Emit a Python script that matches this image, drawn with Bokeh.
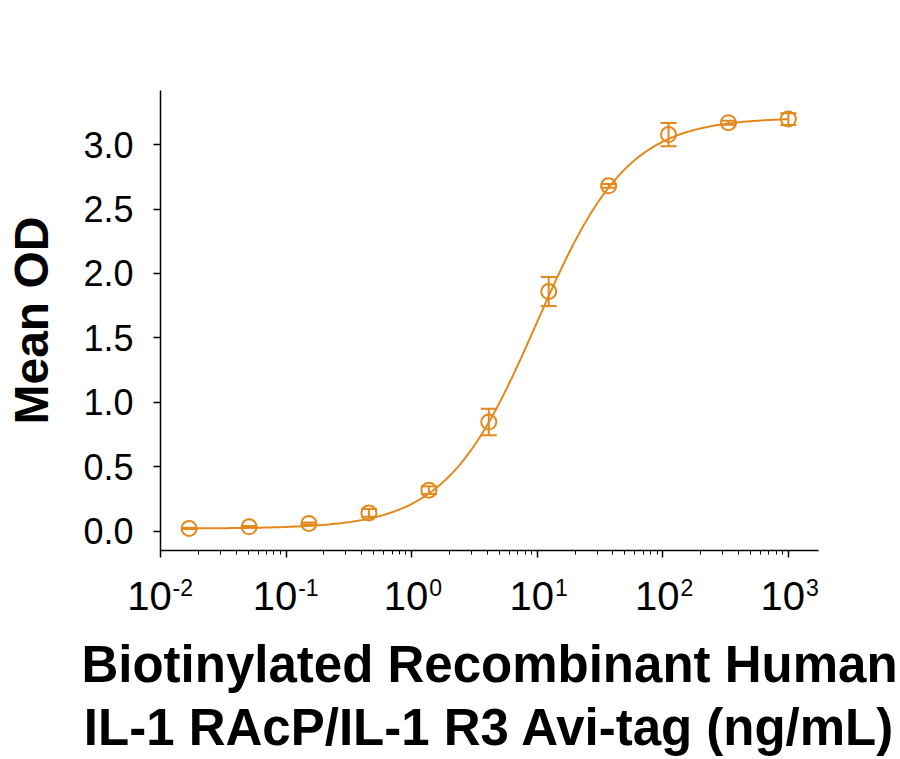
from bokeh.plotting import figure
from bokeh.models import (Range1d, FixedTicker, Whisker, TeeHead, ColumnDataSource,
                          NumeralTickFormatter, LogAxis, CustomJSTickFormatter)
from bokeh.embed import file_html
from bokeh.resources import INLINE
import numpy as np

# 3-fold dilution series (ng/mL) and mean OD readings
conc = [0.0169, 0.0508, 0.152, 0.457, 1.372, 4.115, 12.35, 37.04, 111.1, 333.3, 1000.0]
mean_od = [0.021, 0.034, 0.060, 0.142, 0.318, 0.847, 1.860, 2.680, 3.078, 3.170, 3.198]
sd_od = [0.005, 0.006, 0.008, 0.030, 0.030, 0.103, 0.113, 0.015, 0.090, 0.015, 0.045]

# four-parameter logistic fit
fit_bottom = 0.02
fit_top = 3.21
fit_ec50 = 9.9
fit_hill = 1.2

x_decades = [-2, -1, 0, 1, 2, 3]
x_exponents = ["-2", "-1", "0", "1", "2", "3"]
y_major = [0.0, 0.5, 1.0, 1.5, 2.0, 2.5, 3.0]
x_title = "Biotinylated Recombinant Human\nIL-1 RAcP/IL-1 R3 Avi-tag (ng/mL)"

ORANGE = "#E3891C"
FONT = "Liberation Sans"

W, H = 900, 759
LEFT, RIGHT, TOP, BOTTOM = 160, 82, 90, 209
LOG_LO, LOG_HI = -2.0, 3.24
px_per_decade = (W - LEFT - RIGHT) / (LOG_HI - LOG_LO)

p = figure(width=W, height=H, x_axis_type="log",
           x_range=Range1d(10 ** LOG_LO, 10 ** LOG_HI), y_range=Range1d(-0.15, 3.42),
           output_backend="svg", toolbar_location=None,
           min_border_left=LEFT, min_border_right=RIGHT, min_border_top=TOP,
           min_border_bottom=BOTTOM)
p.outline_line_color = None
p.grid.visible = False
p.background_fill_color = "white"
p.border_fill_color = "white"

# fitted curve
xs = np.logspace(np.log10(conc[0]), np.log10(conc[-1]), 400)
ys = fit_bottom + (fit_top - fit_bottom) / (1 + (fit_ec50 / xs) ** fit_hill)
p.line(xs, ys, line_color=ORANGE, line_width=2)

src = ColumnDataSource(dict(
    x=conc, y=mean_od,
    lo=[m - s for m, s in zip(mean_od, sd_od)],
    hi=[m + s for m, s in zip(mean_od, sd_od)],
))
w = Whisker(source=src, base="x", upper="hi", lower="lo", line_color=ORANGE, line_width=2,
            upper_head=TeeHead(size=16, line_color=ORANGE, line_width=2),
            lower_head=TeeHead(size=16, line_color=ORANGE, line_width=2))
p.add_layout(w)
p.scatter("x", "y", source=src, marker="circle", size=15, fill_color=None,
          line_color=ORANGE, line_width=2)

# main x axis: decade ticks with log minor ticks, no labels of its own
x_major = [10.0 ** d for d in x_decades]
minor = [m * 10.0 ** d for d in x_decades for m in range(2, 10)]
xa = p.xaxis[0]
xa.ticker = FixedTicker(ticks=x_major, minor_ticks=minor)
xa.formatter = CustomJSTickFormatter(code="return ''")
xa.major_label_standoff = 0
xa.major_label_text_font_size = "1px"

# decade labels: "10" (padded on the right to leave room for the exponent)
# and a raised exponent placed just after it
BASE_SIZE, SUP_SIZE = 40, 23
NBSP_W = 0.278 * BASE_SIZE
w_base = 1.112 * BASE_SIZE
base_text, sup_pos = [], []
for d, e in zip(x_decades, x_exponents):
    w_sup = sum(0.333 if ch == "-" else 0.556 for ch in e) * SUP_SIZE
    n_pad = max(1, round((w_sup + 1) / NBSP_W))
    base_text.append("10" + "\u00a0" * n_pad)
    pad_w = n_pad * NBSP_W
    right_of_ten = -(w_base + pad_w) / 2 + w_base
    sup_pos.append(10.0 ** (d + (right_of_ten + 1 + w_sup / 2) / px_per_decade))

base_axis = LogAxis(ticker=FixedTicker(ticks=x_major, minor_ticks=[]),
                    formatter=CustomJSTickFormatter(args=dict(labels=base_text),
                                                    code="return labels[index]"))
sup_axis = LogAxis(ticker=FixedTicker(ticks=sup_pos, minor_ticks=[]),
                   formatter=CustomJSTickFormatter(args=dict(labels=x_exponents),
                                                   code="return labels[index]"))
for ax in (base_axis, sup_axis):
    ax.axis_line_color = None
    ax.major_tick_line_color = None
    ax.minor_tick_line_color = None
    ax.major_tick_out = 0
    ax.minor_tick_out = 0
    ax.major_label_text_font = FONT
    ax.major_label_text_color = "black"
base_axis.major_label_text_font_size = f"{BASE_SIZE}px"
base_axis.major_label_standoff = 16
sup_axis.major_label_text_font_size = f"{SUP_SIZE}px"
sup_axis.major_label_standoff = -42
sup_axis.axis_label = x_title
sup_axis.axis_label_text_font = FONT
sup_axis.axis_label_text_font_style = "bold"
sup_axis.axis_label_text_font_size = "51px"
sup_axis.axis_label_text_line_height = 1.12
sup_axis.axis_label_text_color = "black"
sup_axis.axis_label_standoff = 37
p.add_layout(base_axis, "below")
p.add_layout(sup_axis, "below")

# y axis
p.yaxis.ticker = FixedTicker(ticks=y_major)
p.yaxis.formatter = NumeralTickFormatter(format="0.0")
p.yaxis.axis_label = "Mean OD"

for ax in (xa, p.yaxis[0]):
    ax.axis_line_color = "black"
    ax.axis_line_width = 1.5
    ax.major_tick_line_color = "black"
    ax.major_tick_line_width = 1.5
    ax.major_tick_in = 0
    ax.major_tick_out = 7
    ax.minor_tick_line_color = "black"
    ax.minor_tick_line_width = 1
    ax.minor_tick_in = 0
    ax.minor_tick_out = 4

ya = p.yaxis[0]
ya.minor_tick_out = 0
ya.major_label_text_font = FONT
ya.major_label_text_font_size = "36px"
ya.major_label_text_color = "black"
ya.major_label_standoff = 20
ya.axis_label_text_font = FONT
ya.axis_label_text_font_style = "bold"
ya.axis_label_text_font_size = "48px"
ya.axis_label_text_color = "black"
ya.axis_label_standoff = 22

open("out.html", "w").write(file_html(p, INLINE))
